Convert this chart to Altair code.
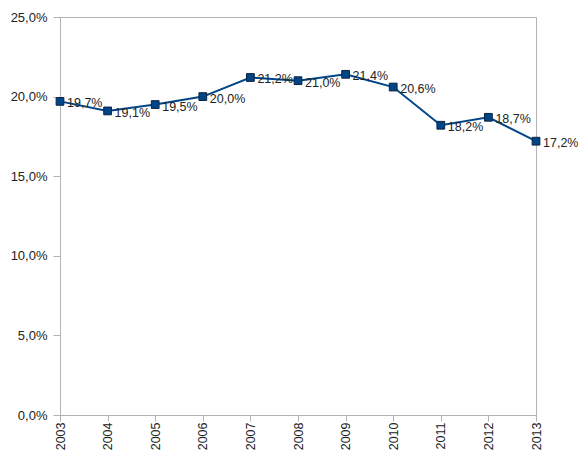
import altair as alt
import pandas as pd

years = [2003, 2004, 2005, 2006, 2007, 2008, 2009, 2010, 2011, 2012, 2013]
values = [19.7, 19.1, 19.5, 20.0, 21.2, 21.0, 21.4, 20.6, 18.2, 18.7, 17.2]
labels = [f"{v:.1f}".replace(".", ",") + "%" for v in values]

df = pd.DataFrame({"year": years, "value": values, "label": labels})

FONT = "Liberation Sans"
BLUE = "#004586"
GRAY = "#b3b3b3"
TXT = "#222222"

x = alt.X("year:Q",
          scale=alt.Scale(domain=[2003, 2013], nice=False, zero=False),
          axis=alt.Axis(values=years, format="d", labelAngle=-90, title=None,
                        grid=False, tickSize=6, labelPadding=1,
                        domainColor=GRAY, tickColor=GRAY, labelColor=TXT,
                        labelFontSize=12.5, labelFont=FONT, labelOverlap=False))
y = alt.Y("value:Q",
          scale=alt.Scale(domain=[0, 25], nice=False),
          axis=alt.Axis(values=[0, 5, 10, 15, 20, 25], title=None, grid=False,
                        labelExpr="replace(format(datum.value, '.1f'), '.', ',') + '%'",
                        tickSize=7, labelPadding=6,
                        domainColor=GRAY, tickColor=GRAY, labelColor=TXT,
                        labelFontSize=13, labelFont=FONT))

base = alt.Chart(df).encode(x=x, y=y)

line = base.mark_line(color=BLUE, strokeWidth=2)
pts = base.mark_point(shape="square", filled=True, size=60, color=BLUE,
                      stroke="#0d2340", strokeWidth=1, opacity=1)
txt = base.mark_text(align="left", baseline="middle", dx=7, dy=2,
                     fontSize=12.5, font=FONT, color=TXT).encode(text="label:N")

chart = (line + pts + txt).properties(
    width=476, height=398,
    autosize=alt.AutoSizeParams(type="none"),
    padding={"left": 52, "top": 9, "right": 42, "bottom": 36},
).configure_view(stroke=GRAY, strokeWidth=1)

chart.save("out.html", embed_options={"renderer": "svg", "actions": False})
